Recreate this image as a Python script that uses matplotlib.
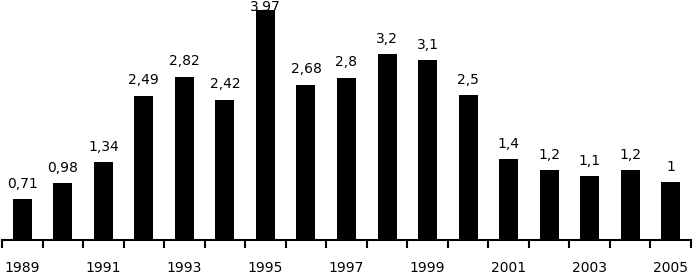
import numpy as np
import matplotlib.pyplot as plt

years = list(range(1989, 2006))
values = [0.71, 0.98, 1.34, 2.49, 2.82, 2.42, 3.97, 2.68, 2.8, 3.2, 3.1,
          2.5, 1.4, 1.2, 1.1, 1.2, 1.0]
value_labels = ["0,71", "0,98", "1,34", "2,49", "2,82", "2,42", "3,97",
                "2,68", "2,8", "3,2", "3,1", "2,5", "1,4", "1,2", "1,1",
                "1,2", "1"]
tick_labels = [str(y) for y in years[::2]]

fig = plt.figure(figsize=(6.93, 2.75), dpi=100)
ax = fig.add_axes([2 / 693, 35 / 275, 689 / 693, 240 / 275])

x = np.arange(len(years))
ax.bar(x, values, width=0.47, color="black")

top = 4.14
for xi, v, lab in zip(x, values, value_labels):
    # the tallest label is squeezed against the top edge like in the original
    off = 6 if v < 3.6 else -3
    ax.annotate(lab, (xi, v), xytext=(0, off), textcoords="offset points",
                ha="center", va="bottom", fontsize=10, clip_on=False)

ax.set_xlim(-0.5, len(years) - 0.5)
ax.set_ylim(0, top)

for side in ["top", "right", "left"]:
    ax.spines[side].set_visible(False)
ax.spines["bottom"].set_linewidth(1.5)
ax.set_yticks([])

# ticks between categories, labels under every second year
ax.set_xticks(np.arange(-0.5, len(years) + 0.5, 1))
ax.set_xticklabels([])
ax.tick_params(axis="x", direction="out", length=6, width=1.5)
ax.set_xticks(x[::2], minor=True)
ax.set_xticklabels(tick_labels, minor=True, fontsize=10)
ax.tick_params(axis="x", which="minor", length=0, pad=15)

fig.savefig("out.png", dpi=100)
